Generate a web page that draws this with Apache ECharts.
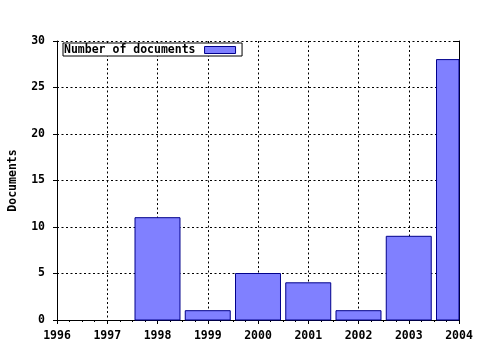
<!DOCTYPE html>
<html>
<head>
<meta charset="utf-8">
<script src="https://cdn.jsdelivr.net/npm/echarts@6/dist/echarts.min.js"></script>
<style>html,body{margin:0;padding:0;background:#fff}#c{width:480px;height:350px}</style>
</head>
<body>
<div id="c"></div>
<script>
const years = [1998, 1999, 2000, 2001, 2002, 2003, 2004];
const documents = [11, 1, 5, 4, 1, 9, 28];
const xTickLabels = ['1996','1997','1998','1999','2000','2001','2002','2003','2004'];
const yTickLabels = ['0','5','10','15','20','25','30'];
const seriesName = 'Number of documents';
const yTitle = 'Documents';

const FONT = 'DejaVu Sans Mono';
const txt = {fontFamily: FONT, fontWeight: 'bold', fontSize: 11.5, color: '#000'};
const dotted = {color: '#000', width: 1, type: [2, 2.5]};
const blackLine = {lineStyle: {color: '#000', width: 1}};
const BAR_RATIO = 0.895;

const chart = echarts.init(document.getElementById('c'), null, {renderer: 'canvas'});
chart.setOption({
  animation: false,
  backgroundColor: '#fff',
  grid: {left: 57, right: 21, top: 41, bottom: 30, containLabel: false, outerBoundsMode: 'none'},
  legend: {
    left: 63, top: 43,
    orient: 'horizontal',
    align: 'right',
    padding: [1, 6, 0, 1],
    borderColor: '#000', borderWidth: 1,
    backgroundColor: '#fff',
    itemWidth: 31, itemHeight: 7,
    icon: 'rect',
    itemStyle: {color: '#8080ff', borderColor: '#00008b', borderWidth: 1},
    textStyle: Object.assign({padding: [0, 4, 0, 0]}, txt),
    data: [seriesName]
  },
  xAxis: [{
    type: 'value', position: 'bottom',
    min: 1996, max: 2004, interval: 1,
    axisLine: blackLine,
    axisTick: {show: true, inside: false, length: 4, lineStyle: {color: '#000'}},
    minorTick: {show: true, splitNumber: 4, length: 2, lineStyle: {color: '#000'}},
    axisLabel: Object.assign({margin: 10, formatter: v => xTickLabels[Math.round(v - 1996)] || ''}, txt),
    splitLine: {show: true, lineStyle: dotted}
  }, {
    type: 'value', position: 'top',
    min: 1996, max: 2004, interval: 1,
    axisLine: blackLine,
    axisTick: {show: true, inside: true, length: 4, lineStyle: {color: '#000'}},
    minorTick: {show: true, splitNumber: 4, length: 2, lineStyle: {color: '#000'}},
    axisLabel: {show: false},
    splitLine: {show: false}
  }],
  yAxis: [{
    type: 'value', position: 'left',
    min: 0, max: 30, interval: 5,
    name: yTitle, nameLocation: 'middle', nameGap: 38, nameRotate: 90,
    nameTextStyle: Object.assign({}, txt),
    axisLine: blackLine,
    axisTick: {show: true, inside: false, length: 4, lineStyle: {color: '#000'}},
    axisLabel: Object.assign({margin: 12, formatter: v => yTickLabels[Math.round(v / 5)] || ''}, txt),
    splitLine: {show: true, lineStyle: dotted}
  }, {
    type: 'value', position: 'right',
    min: 0, max: 30, interval: 5,
    axisLine: blackLine,
    axisTick: {show: true, inside: true, length: 4, lineStyle: {color: '#000'}},
    axisLabel: {show: false},
    splitLine: {show: false}
  }],
  series: [{
    name: seriesName,
    type: 'custom',
    xAxisIndex: 0, yAxisIndex: 0,
    itemStyle: {color: '#8080ff', borderColor: '#00008b', borderWidth: 1},
    encode: {x: 0, y: 1},
    renderItem: function (params, api) {
      const x = api.value(0), y = api.value(1);
      const base = api.coord([x, 0]);
      const top = api.coord([x, y]);
      const w = api.size([1, 0])[0] * BAR_RATIO;
      const cs = params.coordSys;
      const rect = echarts.graphic.clipRectByRect(
        {x: base[0] - w / 2, y: top[1], width: w, height: base[1] - top[1]},
        {x: cs.x, y: cs.y, width: cs.width, height: cs.height}
      );
      if (!rect) return null;
      return {type: 'rect', shape: rect, style: api.style()};
    },
    data: years.map((y, i) => [y, documents[i]])
  }]
});
</script>
</body>
</html>
